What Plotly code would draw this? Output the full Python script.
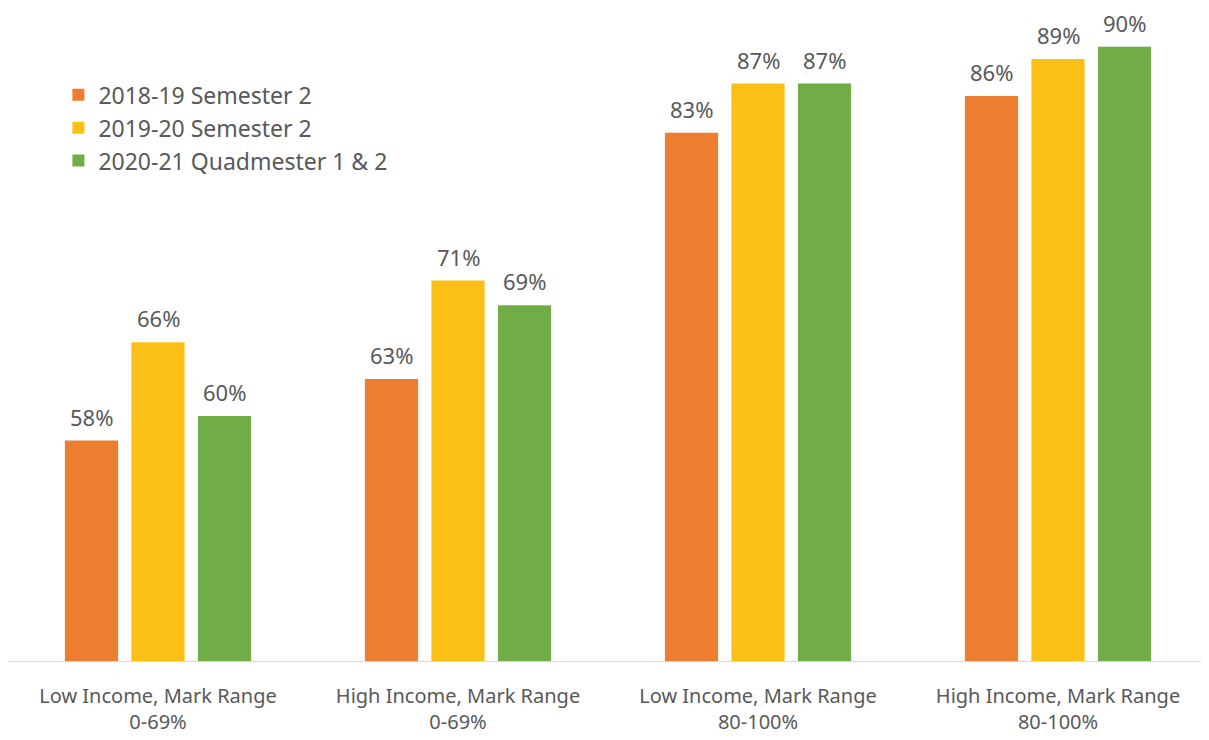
import plotly.graph_objects as go

categorias = ["Low Income, Mark Range<br>0-69%",
              "High Income, Mark Range<br>0-69%",
              "Low Income, Mark Range<br>80-100%",
              "High Income, Mark Range<br>80-100%"]
series = ["2018-19 Semester 2", "2019-20 Semester 2", "2020-21 Quadmester 1 & 2"]
v_2018 = [58, 63, 83, 86]
v_2019 = [66, 71, 87, 89]
v_2020 = [60, 69, 87, 90]
colores = ["#ED7D31", "#FBC016", "#70AD47"]

ancho_plot = 1200
bargap = 0.335
bargroupgap = 0.2
# ancho de cada hueco de barra en pixeles (para colocar las etiquetas)
hueco = ancho_plot / len(categorias) * (1 - bargap) / len(series)

fig = go.Figure()

for i, (nombre, valores, color) in enumerate(zip(series, [v_2018, v_2019, v_2020], colores)):
    fig.add_trace(go.Bar(
        x=categorias,
        y=valores,
        name=nombre,
        marker_color=color,
        marker_line_width=0,
    ))
    # etiquetas de datos encima de cada barra
    for cat, v in zip(categorias, valores):
        fig.add_annotation(
            x=cat, y=v, text=f"{v}%",
            showarrow=False, yanchor="bottom", borderpad=0,
            xshift=(i - 1) * hueco, yshift=8,
            font=dict(size=22, color="#595959"),
        )

fig.update_layout(
    width=1209, height=740,
    margin=dict(l=0, r=9, t=0, b=87),
    plot_bgcolor="white",
    paper_bgcolor="white",
    font=dict(family="Noto Sans", size=20, color="#595959"),
    barmode="group",
    bargap=bargap,
    bargroupgap=bargroupgap,
    showlegend=True,
    legend=dict(x=0.042, y=0.9, xanchor="left", yanchor="top",
                font=dict(size=23, color="#595959"),
                bgcolor="rgba(0,0,0,0)"),
    xaxis=dict(showline=True, linecolor="#D9D9D9", linewidth=1,
               ticks="", ticklabelstandoff=17,
               tickfont=dict(size=20, color="#595959")),
    yaxis=dict(range=[40.1, 93.14], visible=False, showgrid=False),
)

fig.write_html("out.html")
